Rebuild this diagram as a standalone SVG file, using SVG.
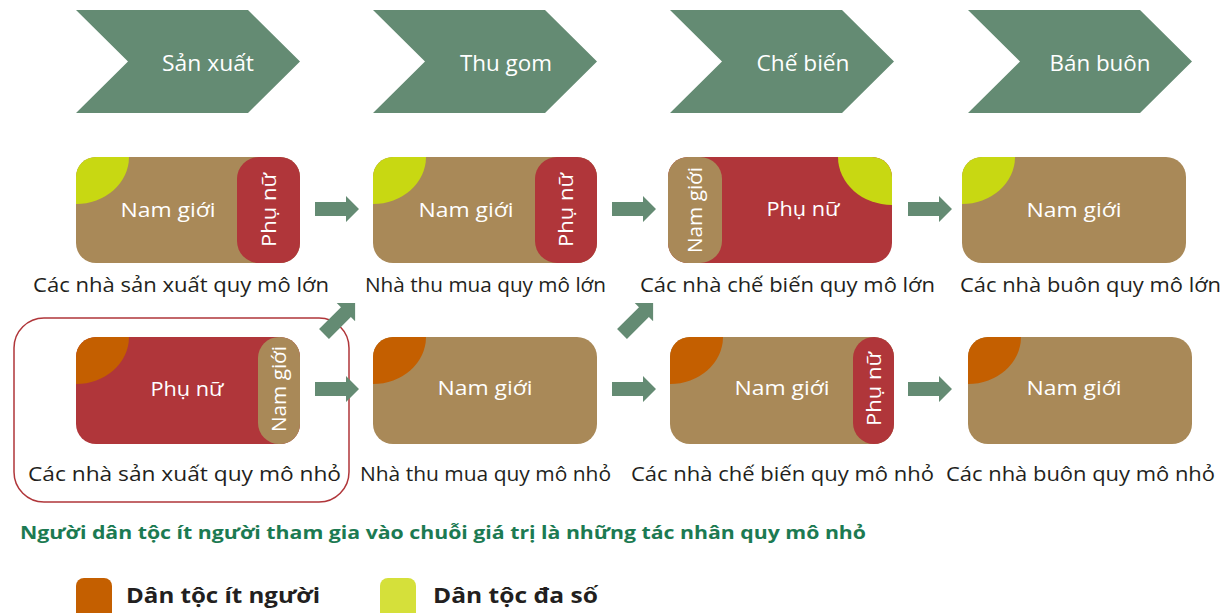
<svg xmlns="http://www.w3.org/2000/svg" width="1224" height="613" viewBox="0 0 1224 613">
<style>
.chev{fill:#648B73}
.brown{fill:#A98958}
.red{fill:#B0363A}
.yel{fill:#C8D812}
.ora{fill:#C45F00}
.arr{fill:#648B73}
.lbl{font-family:"Open Sans","Liberation Sans",sans-serif;font-size:20px;fill:#ffffff;text-anchor:middle}
.chevt{font-family:"Open Sans","Liberation Sans",sans-serif;font-size:21px;fill:#ffffff;text-anchor:middle}
.cap{font-family:"Open Sans","Liberation Sans",sans-serif;font-size:20px;fill:#231F20}
.note{font-family:"Open Sans","Liberation Sans",sans-serif;font-size:17px;font-weight:bold;fill:#1C7A52}
.leg{font-family:"Open Sans","Liberation Sans",sans-serif;font-size:22px;font-weight:bold;fill:#231F20}
</style>
<defs>
<path id="chevron" d="M0,0 L172,0 L224,51.5 L172,103 L0,103 L52,51.5 Z"/>
<path id="arrow" d="M0,-7 L31,-7 L31,-13 L44,0 L31,13 L31,7 L0,7 Z"/>
<clipPath id="c1"><rect x="76" y="157" width="224" height="106" rx="20"/></clipPath>
<clipPath id="c2"><rect x="373" y="157" width="224" height="106" rx="20"/></clipPath>
<clipPath id="c3"><rect x="668" y="157" width="224" height="106" rx="20"/></clipPath>
<clipPath id="c4"><rect x="962" y="157" width="224" height="106" rx="20"/></clipPath>
<clipPath id="c5"><rect x="76" y="337" width="224" height="107" rx="20"/></clipPath>
<clipPath id="c6"><rect x="373" y="337" width="224" height="107" rx="20"/></clipPath>
<clipPath id="c7"><rect x="670" y="337" width="224" height="107" rx="20"/></clipPath>
<clipPath id="c8"><rect x="968" y="337" width="224" height="107" rx="20"/></clipPath>
</defs>

<g id="stage-san-xuat">
<use href="#chevron" class="chev" transform="translate(76,10)"/>
<text class="chevt" x="208" y="71" textLength="92" lengthAdjust="spacingAndGlyphs">Sản xuất</text>
</g>
<g id="stage-thu-gom">
<use href="#chevron" class="chev" transform="translate(373,10)"/>
<text class="chevt" x="506" y="71" textLength="92" lengthAdjust="spacingAndGlyphs">Thu gom</text>
</g>
<g id="stage-che-bien">
<use href="#chevron" class="chev" transform="translate(670,10)"/>
<text class="chevt" x="803" y="71" textLength="93" lengthAdjust="spacingAndGlyphs">Chế biến</text>
</g>
<g id="stage-ban-buon">
<use href="#chevron" class="chev" transform="translate(968,10)"/>
<text class="chevt" x="1100" y="71" textLength="101" lengthAdjust="spacingAndGlyphs">Bán buôn</text>
</g>

<g id="frame-small-producers">
<rect x="14" y="318" width="335" height="184" rx="30" fill="none" stroke="#B0363A" stroke-width="1.5"/>
</g>

<g id="node-prod-large">
<g clip-path="url(#c1)">
<rect class="brown" x="76" y="157" width="224" height="106"/>
<ellipse class="yel" cx="76" cy="157" rx="53" ry="47"/>
<rect class="red" x="237" y="157" width="90" height="106" rx="22"/>
</g>
<text class="lbl" x="168" y="217" textLength="95" lengthAdjust="spacingAndGlyphs">Nam giới</text>
<text class="lbl" transform="translate(269,210) rotate(-90)" x="0" y="7" textLength="74" lengthAdjust="spacingAndGlyphs">Phụ nữ</text>
<text class="cap" x="33" y="292" textLength="296" lengthAdjust="spacingAndGlyphs">Các nhà sản xuất quy mô lớn</text>
</g>

<g id="node-coll-large">
<g clip-path="url(#c2)">
<rect class="brown" x="373" y="157" width="224" height="106"/>
<ellipse class="yel" cx="373" cy="157" rx="53" ry="47"/>
<rect class="red" x="535" y="157" width="90" height="106" rx="22"/>
</g>
<text class="lbl" x="466" y="217" textLength="95" lengthAdjust="spacingAndGlyphs">Nam giới</text>
<text class="lbl" transform="translate(566,210) rotate(-90)" x="0" y="7" textLength="74" lengthAdjust="spacingAndGlyphs">Phụ nữ</text>
<text class="cap" x="365" y="292" textLength="241" lengthAdjust="spacingAndGlyphs">Nhà thu mua quy mô lớn</text>
</g>

<g id="node-proc-large">
<g clip-path="url(#c3)">
<rect class="red" x="668" y="157" width="224" height="106"/>
<ellipse class="yel" cx="892" cy="157" rx="54" ry="48"/>
<rect class="brown" x="640" y="157" width="82" height="106" rx="22"/>
</g>
<text class="lbl" x="803" y="216" textLength="73" lengthAdjust="spacingAndGlyphs">Phụ nữ</text>
<text class="lbl" transform="translate(695,210) rotate(-90)" x="0" y="7" textLength="86" lengthAdjust="spacingAndGlyphs">Nam giới</text>
<text class="cap" x="640" y="292" textLength="295" lengthAdjust="spacingAndGlyphs">Các nhà chế biến quy mô lớn</text>
</g>

<g id="node-whole-large">
<g clip-path="url(#c4)">
<rect class="brown" x="962" y="157" width="224" height="106"/>
<ellipse class="yel" cx="962" cy="157" rx="53" ry="47"/>
</g>
<text class="lbl" x="1074" y="217" textLength="95" lengthAdjust="spacingAndGlyphs">Nam giới</text>
<text class="cap" x="960" y="292" textLength="261" lengthAdjust="spacingAndGlyphs">Các nhà buôn quy mô lớn</text>
</g>

<g id="node-prod-small">
<g clip-path="url(#c5)">
<rect class="red" x="76" y="337" width="224" height="107"/>
<ellipse class="ora" cx="76" cy="337" rx="53" ry="47"/>
<rect class="brown" x="258" y="337" width="70" height="107" rx="21"/>
</g>
<text class="lbl" x="187" y="396" textLength="73" lengthAdjust="spacingAndGlyphs">Phụ nữ</text>
<text class="lbl" transform="translate(279,389) rotate(-90)" x="0" y="7" textLength="86" lengthAdjust="spacingAndGlyphs">Nam giới</text>
<text class="cap" x="28" y="481" textLength="313" lengthAdjust="spacingAndGlyphs">Các nhà sản xuất quy mô nhỏ</text>
</g>

<g id="node-coll-small">
<g clip-path="url(#c6)">
<rect class="brown" x="373" y="337" width="224" height="107"/>
<ellipse class="ora" cx="373" cy="337" rx="53" ry="47"/>
</g>
<text class="lbl" x="485" y="395" textLength="95" lengthAdjust="spacingAndGlyphs">Nam giới</text>
<text class="cap" x="360" y="481" textLength="251" lengthAdjust="spacingAndGlyphs">Nhà thu mua quy mô nhỏ</text>
</g>

<g id="node-proc-small">
<g clip-path="url(#c7)">
<rect class="brown" x="670" y="337" width="224" height="107"/>
<ellipse class="ora" cx="670" cy="337" rx="53" ry="47"/>
<rect class="red" x="853" y="337" width="70" height="107" rx="21"/>
</g>
<text class="lbl" x="782" y="395" textLength="95" lengthAdjust="spacingAndGlyphs">Nam giới</text>
<text class="lbl" transform="translate(874,389) rotate(-90)" x="0" y="7" textLength="74" lengthAdjust="spacingAndGlyphs">Phụ nữ</text>
<text class="cap" x="631" y="481" textLength="303" lengthAdjust="spacingAndGlyphs">Các nhà chế biến quy mô nhỏ</text>
</g>

<g id="node-whole-small">
<g clip-path="url(#c8)">
<rect class="brown" x="968" y="337" width="224" height="107"/>
<ellipse class="ora" cx="968" cy="337" rx="53" ry="47"/>
</g>
<text class="lbl" x="1074" y="395" textLength="95" lengthAdjust="spacingAndGlyphs">Nam giới</text>
<text class="cap" x="946" y="481" textLength="269" lengthAdjust="spacingAndGlyphs">Các nhà buôn quy mô nhỏ</text>
</g>

<g id="connectors">
<use href="#arrow" class="arr" transform="translate(315,209)"/>
<use href="#arrow" class="arr" transform="translate(612,209)"/>
<use href="#arrow" class="arr" transform="translate(908,209)"/>
<use href="#arrow" class="arr" transform="translate(315,389)"/>
<use href="#arrow" class="arr" transform="translate(612,389)"/>
<use href="#arrow" class="arr" transform="translate(908,389)"/>
<use href="#arrow" class="arr" transform="translate(324,334) rotate(-45)"/>
<use href="#arrow" class="arr" transform="translate(622,334) rotate(-45)"/>
</g>

<g id="note">
<text class="note" x="20" y="539" textLength="846" lengthAdjust="spacingAndGlyphs">Người dân tộc ít người tham gia vào chuỗi giá trị là những tác nhân quy mô nhỏ</text>
</g>

<g id="legend">
<rect class="ora" x="76" y="578" width="36" height="45" rx="8"/>
<text class="leg" x="126" y="603" textLength="194" lengthAdjust="spacingAndGlyphs">Dân tộc ít người</text>
<rect x="380" y="578" width="36" height="45" rx="8" fill="#D5E03A"/>
<text class="leg" x="433" y="603" textLength="165" lengthAdjust="spacingAndGlyphs">Dân tộc đa số</text>
</g>
</svg>
